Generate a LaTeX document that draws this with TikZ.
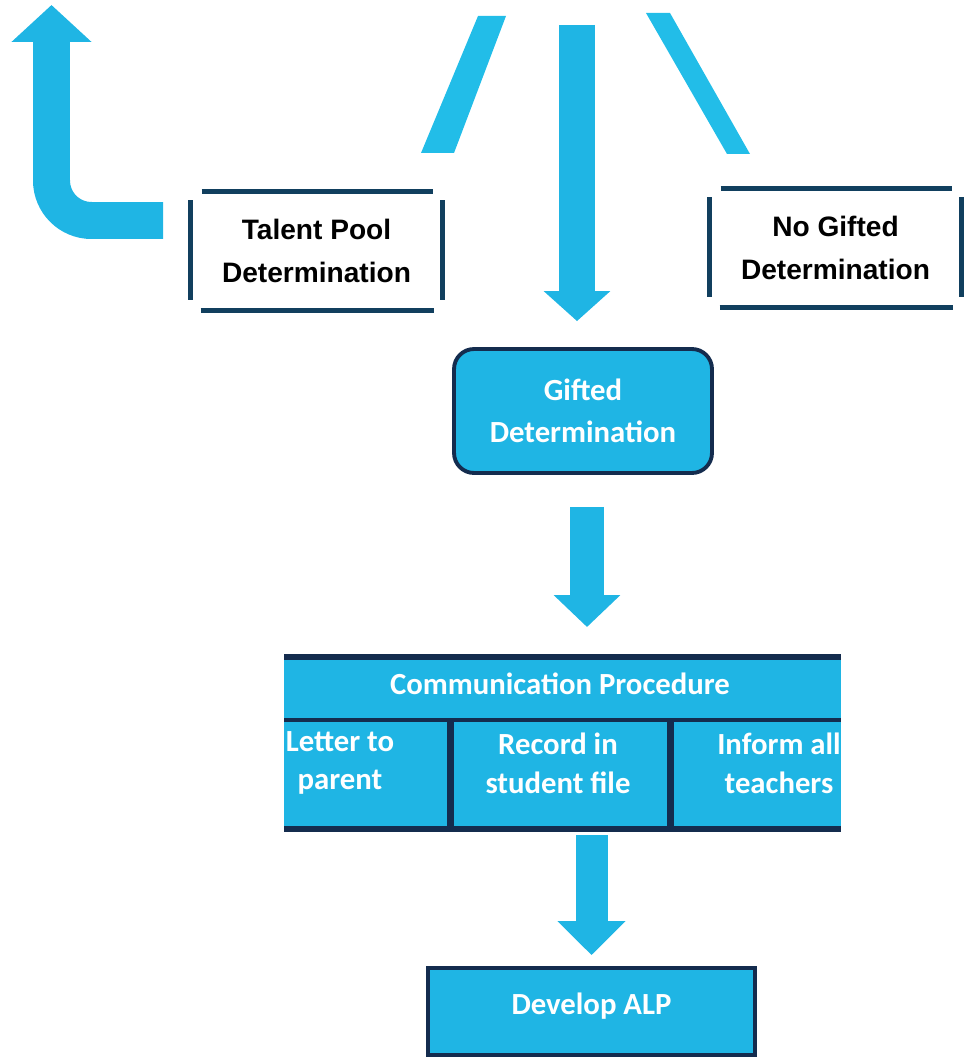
\documentclass[tikz,border=0pt]{standalone}
\usepackage{fontspec}
\setmainfont{Liberation Sans}
\newfontfamily\calibri{Carlito}
\usepackage{xcolor}
\usepackage{tikz}
\usetikzlibrary{positioning, arrows.meta, calc}
\definecolor{skyfill}{RGB}{31,181,228}
\definecolor{skybar}{RGB}{34,189,232}
\definecolor{navyline}{RGB}{20,44,78}
\definecolor{sideblue}{RGB}{17,63,94}

\begin{document}
\begin{tikzpicture}[x=0.02cm, y=-0.02cm,
    fatarrow/.style={skyfill, line width=0.72cm, -{Triangle[length=0.6cm, width=1.3cm]}},
    plainbox/.style={minimum width=5.02cm, minimum height=2.36cm, align=center, font=\bfseries\fontsize{16}{24}\selectfont},
    sideline/.style={sideblue, line width=0.1cm},
    bluebox/.style={fill=skyfill, draw=navyline, line width=2.2pt, text=white, align=center, font=\calibri\bfseries\fontsize{17.5}{24}\selectfont},
    celltext/.style={text=white, align=center, font=\calibri\bfseries\fontsize{17.5}{22}\selectfont},
    tableline/.style={navyline, line width=0.12cm}]
\useasboundingbox (0,0) rectangle (971,1057);

% the three branches at the top
\fill[skybar] (478,16) -- (506,16) -- (454,153) -- (421,153) -- cycle;
\fill[skybar] (646,13) -- (670,13) -- (750,154) -- (727,154) -- cycle;

\node[plainbox] (talent) at (316.5,251) {Talent Pool\\Determination};
\node[plainbox] (nogift) at (835.5,248) {No Gifted\\Determination};
\foreach \b in {talent,nogift} {
    \draw[sideline] ([xshift=0.22cm]\b.north west) -- ([xshift=-0.18cm]\b.north east);
    \draw[sideline] ([xshift=0.2cm]\b.south west) -- ([xshift=-0.16cm]\b.south east);
    \draw[sideline] ([yshift=-0.17cm]\b.north west) -- ([yshift=0.2cm]\b.south west);
    \draw[sideline] ([yshift=-0.17cm]\b.north east) -- ([yshift=0.2cm]\b.south east);
}

% arrow back up on the left
\coordinate (lstart) at (163,220.5);
\coordinate (lend) at (51.5,5);
\draw[fatarrow, line width=0.74cm, rounded corners=0.8cm, -{Triangle[length=0.74cm, width=1.56cm]}]
    (lstart) -- (lend |- lstart) -- (lend);

\node[bluebox, rounded corners=0.4cm, minimum width=5.16cm, minimum height=2.48cm] (gifted) at (583,411) {Gifted\\Determination};

\coordinate (drop) at (577,25);
\draw[fatarrow, shorten >=0.52cm] (drop) -- (drop |- gifted.north);

% communication table
\coordinate (tabletop) at (562,654);
\coordinate (tablebottom) at (562,832);
\fill[skyfill] (284,654) rectangle (841,832);
\draw[tableline] (284,657) -- (841,657);
\draw[tableline, line width=0.08cm] (284,720) -- (841,720);
\draw[tableline] (284,829) -- (841,829);
\draw[tableline, line width=0.14cm] (450,720) -- (450,829);
\draw[tableline, line width=0.14cm] (670,720) -- (670,829);
\node[celltext] (comm) at (560,684) {Communication Procedure};
\node[celltext] (letter) at (340,763) {Letter to\\parent};
\node[celltext] (record) at (558,763) {Record in\\student file};
\node[celltext] (inform) at (779,763) {Inform all\\teachers};

\draw[fatarrow, line width=0.68cm, -{Triangle[length=0.64cm, width=1.3cm]}, shorten <=0.64cm, shorten >=0.54cm]
    ([xshift=0.08cm]gifted.south) -- ([xshift=0.08cm]gifted.south |- tabletop);

\node[bluebox, minimum width=6.54cm, minimum height=1.74cm, text depth=0.33cm] (alp) at (591.5,1011.5) {Develop ALP};

\draw[fatarrow, line width=0.64cm, -{Triangle[length=0.68cm, width=1.32cm]}, shorten <=0.06cm, shorten >=0.22cm]
    (alp.north |- tablebottom) -- (alp.north);
\end{tikzpicture}
\end{document}
